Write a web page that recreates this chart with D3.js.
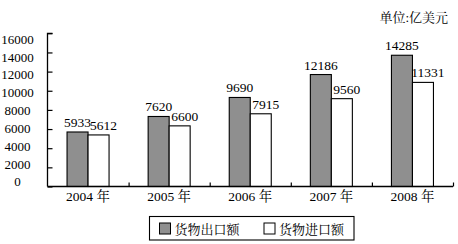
<!DOCTYPE html>
<html>
<head>
<meta charset="utf-8">
<script src="https://cdn.jsdelivr.net/npm/d3@7"></script>
<style>
  body { margin: 0; background: #fff; }
  svg { display: block; }
</style>
</head>
<body>
<svg id="chart" width="458" height="244"></svg>
<script>
const years = ['2004', '2005', '2006', '2007', '2008'];
const exportVals = [5933, 7620, 9690, 12186, 14285];
const importVals = [5612, 6600, 7915, 9560, 11331];
const yTicks = [0, 2000, 4000, 6000, 8000, 10000, 12000, 14000, 16000];
const seriesNames = ['货物出口额', '货物进口额'];
const unitLabel = '单位:亿美元';

const FONT = "'Liberation Serif', 'Noto Serif CJK SC', 'Noto Sans CJK SC', serif";

const svg = d3.select('#chart');
svg.append('rect').attr('width', 458).attr('height', 244).attr('fill', '#fff');

const LEFT = 47.5, RIGHT = 453, BASE = 186.5;
const colors = ['#8f8f8f', '#ffffff'];

// bar scale and the slightly different scales used by the original axis
const y = d3.scaleLinear().domain([0, 16000]).range([BASE, 39.5]);
const yTickScale = d3.scaleLinear().domain([0, 16000]).range([BASE, 33.3]);
const yLabelScale = d3.scaleLinear().domain([0, 16000]).range([181.7, 39]);

const x0 = d3.scaleBand().domain(years).range([LEFT, RIGHT]).paddingInner(0.482).paddingOuter(0.241);
const x1 = d3.scaleBand().domain([0, 1]).range([0, x0.bandwidth()]);
const xBound = d3.scaleLinear().domain([0, years.length]).range([LEFT, RIGHT]);

// bars
const rows = years.map((yr, i) => ({ yr, vals: [exportVals[i], importVals[i]] }));
const groups = svg.append('g').selectAll('g').data(rows).join('g')
  .attr('transform', (d) => `translate(${x0(d.yr)},0)`);

groups.selectAll('rect').data((d) => d.vals).join('rect')
  .attr('x', (d, i) => x1(i))
  .attr('y', (d) => y(d))
  .attr('width', x1.bandwidth())
  .attr('height', (d) => BASE - y(d))
  .attr('fill', (d, i) => colors[i])
  .attr('stroke', '#000')
  .attr('stroke-width', 1.1);

groups.selectAll('text.val').data((d) => d.vals).join('text')
  .attr('class', 'val')
  .attr('x', (d, i) => x1(i) + x1.bandwidth() / 2 + (i === 1 ? 5 : 0))
  .attr('y', (d) => y(d) - 5)
  .attr('text-anchor', 'middle')
  .attr('font-family', FONT)
  .attr('font-size', 13.5)
  .text((d) => d);

// y axis: tick marks
const yAxisG = svg.append('g').attr('transform', `translate(${LEFT},0)`)
  .call(d3.axisRight(yTickScale).tickValues(yTicks).tickSize(5).tickFormat(''));
yAxisG.select('.domain').attr('d', `M5,${yTickScale(16000)}H0V${BASE}`).attr('stroke', '#000').attr('stroke-width', 1.3);
yAxisG.selectAll('.tick line').attr('stroke', '#000').attr('stroke-width', 1.2);

// y axis: labels
const yLab = svg.append('g').attr('transform', 'translate(17.5,0)')
  .call(d3.axisLeft(yLabelScale).tickValues(yTicks).tickSize(0).tickPadding(0).tickFormat((d) => d))
  .attr('font-family', FONT)
  .attr('font-size', 13);
yLab.select('.domain').remove();
yLab.selectAll('text').attr('text-anchor', 'middle').attr('x', 0).attr('fill', '#000');

// x axis: baseline and boundary ticks
const xAxisG = svg.append('g').attr('transform', `translate(0,${BASE})`)
  .call(d3.axisBottom(xBound).tickValues(d3.range(1, years.length + 1)).tickSize(-4).tickFormat(''));
xAxisG.select('.domain').attr('d', `M${LEFT},0H${RIGHT}`).attr('stroke', '#000').attr('stroke-width', 1.3);
xAxisG.selectAll('.tick line').attr('stroke', '#000').attr('stroke-width', 1.2);

// x labels
const xLab = svg.append('g').attr('transform', `translate(0,${BASE})`)
  .call(d3.axisBottom(x0).tickSize(0).tickPadding(5).tickFormat((d) => d + ' 年'))
  .attr('font-family', FONT)
  .attr('font-size', 13.5);
xLab.select('.domain').remove();
xLab.selectAll('text').attr('fill', '#000');

// unit label
svg.append('text')
  .attr('x', 448).attr('y', 22)
  .attr('text-anchor', 'end')
  .attr('font-family', FONT)
  .attr('font-size', 13)
  .text(unitLabel);

// legend
const legend = svg.append('g').attr('font-family', FONT).attr('font-size', 13);
legend.append('rect')
  .attr('x', 149.5).attr('y', 216.5).attr('width', 204.5).attr('height', 23.5)
  .attr('fill', '#fff').attr('stroke', '#000').attr('stroke-width', 1.1);
const legX = [159.5, 264];
seriesNames.forEach((name, i) => {
  legend.append('rect')
    .attr('x', legX[i]).attr('y', 223).attr('width', 11).attr('height', 11)
    .attr('fill', colors[i]).attr('stroke', '#000').attr('stroke-width', 1);
  legend.append('text')
    .attr('x', legX[i] + 15).attr('y', 234)
    .text(name);
});
</script>
</body>
</html>
